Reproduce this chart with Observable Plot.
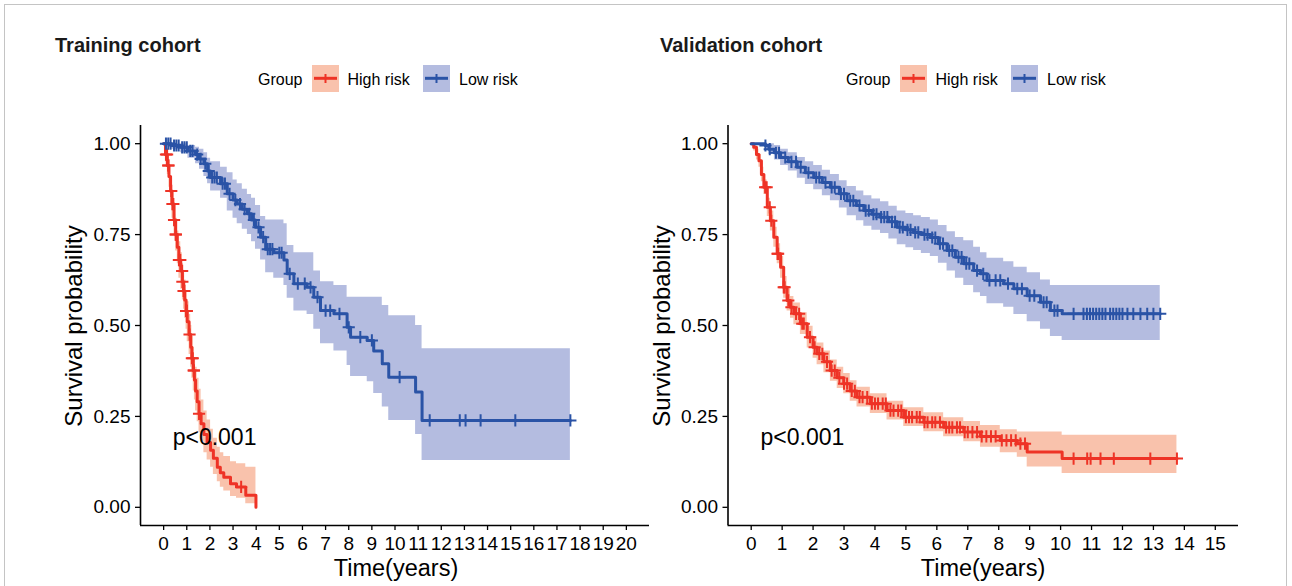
<!DOCTYPE html>
<html>
<head>
<meta charset="utf-8">
<script src="https://cdn.jsdelivr.net/npm/d3@7"></script>
<script src="https://cdn.jsdelivr.net/npm/@observablehq/plot@0.6"></script>
<style>
  html, body { margin: 0; padding: 0; background: #fff; }
  body { width: 1292px; height: 586px; position: relative; overflow: hidden;
         font-family: "Liberation Sans", Arial, Helvetica, sans-serif; color: #000; }
  .frame { position: absolute; left: 4px; top: 4px; width: 1283px; height: 600px; border: 1px solid #c4c4c4; box-sizing: border-box; }
  .title { position: absolute; font-weight: bold; font-size: 20px; line-height: 1; color: #1a1a1a; white-space: nowrap; }
  .legend { position: absolute; font-size: 16px; line-height: 1; white-space: nowrap; }
  .legtxt { position: absolute; top: 0; }
  .sw { position: absolute; top: -7px; }
  .ylab { position: absolute; font-size: 24px; line-height: 1; white-space: nowrap; transform: translate(-50%, -50%) rotate(-90deg); }
  .xlab { position: absolute; font-size: 23.5px; line-height: 1; white-space: nowrap; transform: translate(-50%, -50%); }
</style>
</head>
<body>
<div class="frame"></div>
<script>
// ---------------- DATA ----------------
const groups = ["High risk", "Low risk"];
const lineColors = ["#EE3326", "#2A53A6"];
const bandColors = ["#F9C2AC", "#B4BCE0"];
const panelTitles = ["Training cohort", "Validation cohort"];
const pLabel = "p<0.001";
const xTicksTrain = [0,1,2,3,4,5,6,7,8,9,10,11,12,13,14,15,16,17,18,19,20];
const xTicksValid = [0,1,2,3,4,5,6,7,8,9,10,11,12,13,14,15];
const yTicks = [0, 0.25, 0.5, 0.75, 1];

// Training cohort - High risk
const trHighTime  = [0, 0.08, 0.16, 0.23, 0.30, 0.36, 0.45, 0.52, 0.59, 0.66, 0.74, 0.81, 0.86, 0.91, 0.97, 1.02, 1.10, 1.17, 1.22, 1.28, 1.33, 1.38, 1.45, 1.53, 1.62, 1.74, 1.88, 2.03, 2.15, 2.32, 2.45, 2.60, 2.89, 3.15, 3.55, 3.99];
const trHighSurv  = [1, 0.97, 0.94, 0.91, 0.87, 0.834, 0.79, 0.75, 0.715, 0.68, 0.65, 0.62, 0.595, 0.57, 0.54, 0.51, 0.475, 0.44, 0.41, 0.376, 0.35, 0.32, 0.29, 0.257, 0.23, 0.20, 0.178, 0.157, 0.135, 0.11, 0.095, 0.083, 0.065, 0.056, 0.033, 0];
const trHighLower = [1, 0.95, 0.915, 0.88, 0.835, 0.795, 0.75, 0.705, 0.67, 0.63, 0.60, 0.57, 0.545, 0.52, 0.49, 0.455, 0.42, 0.385, 0.355, 0.32, 0.295, 0.265, 0.235, 0.205, 0.18, 0.15, 0.13, 0.11, 0.09, 0.07, 0.055, 0.045, 0.03, 0.025, 0.01, 0.01];
const trHighUpper = [1, 0.99, 0.965, 0.94, 0.905, 0.87, 0.83, 0.795, 0.76, 0.73, 0.70, 0.67, 0.645, 0.625, 0.595, 0.565, 0.53, 0.50, 0.47, 0.44, 0.41, 0.385, 0.355, 0.325, 0.295, 0.265, 0.24, 0.215, 0.19, 0.165, 0.15, 0.14, 0.125, 0.12, 0.11, 0.11];
const trHighCensor = [0.1, 0.15, 0.2, 0.21, 0.33, 0.38, 0.42, 0.45, 0.52, 0.53, 0.66, 0.7, 0.72, 0.8, 0.81, 0.86, 0.9, 0.97, 0.99, 1.0, 1.12, 1.22, 1.26, 1.3, 1.31, 1.53, 3.35];

// Training cohort - Low risk
const trLowTime  = [0, 0.35, 0.73, 1.05, 1.38, 1.55, 1.74, 1.9, 2.03, 2.46, 2.75, 3.0, 3.18, 3.4, 3.62, 3.8, 3.97, 4.19, 4.41, 4.76, 5.2, 5.34, 5.63, 6.2, 6.49, 6.78, 7.36, 7.93, 8.08, 8.8, 9.08, 9.45, 9.73, 10.89, 11.17, 17.58];
const trLowSurv  = [1, 0.995, 0.99, 0.98, 0.97, 0.958, 0.945, 0.925, 0.907, 0.89, 0.862, 0.845, 0.834, 0.82, 0.807, 0.79, 0.77, 0.743, 0.71, 0.70, 0.68, 0.642, 0.615, 0.605, 0.578, 0.541, 0.532, 0.495, 0.468, 0.459, 0.43, 0.395, 0.358, 0.317, 0.239, 0.239];
const trLowLower = [1, 0.985, 0.975, 0.96, 0.945, 0.93, 0.91, 0.89, 0.87, 0.85, 0.815, 0.795, 0.78, 0.765, 0.75, 0.73, 0.71, 0.68, 0.645, 0.63, 0.61, 0.575, 0.54, 0.53, 0.49, 0.45, 0.43, 0.39, 0.36, 0.345, 0.313, 0.276, 0.239, 0.20, 0.129, 0.129];
const trLowUpper = [1, 1, 1, 0.995, 0.99, 0.985, 0.975, 0.96, 0.95, 0.935, 0.92, 0.90, 0.89, 0.875, 0.86, 0.85, 0.83, 0.80, 0.79, 0.79, 0.78, 0.72, 0.70, 0.70, 0.65, 0.62, 0.61, 0.578, 0.578, 0.578, 0.578, 0.555, 0.527, 0.50, 0.436, 0.436];
const trLowCensor = [0.1, 0.2, 0.3, 0.45, 0.55, 0.65, 0.8, 0.9, 1.0, 1.15, 1.25, 1.45, 1.6, 1.8, 1.95, 2.1, 2.2, 2.3, 2.55, 2.65, 2.85, 3.1, 3.3, 3.5, 3.7, 3.9, 4.1, 4.3, 4.5, 4.6, 4.7, 5.0, 5.1, 5.45, 5.8, 6.1, 6.35, 6.65, 7.0, 7.2, 7.6, 8.0, 8.5, 9.0, 10.2, 11.5, 12.8, 13.05, 13.7, 15.2, 17.58];

// Validation cohort - High risk
const vaHighTime  = [0, 0.08, 0.17, 0.25, 0.33, 0.41, 0.52, 0.62, 0.73, 0.84, 0.95, 1.05, 1.16, 1.27, 1.38, 1.59, 1.81, 2.0, 2.13, 2.35, 2.56, 2.78, 2.99, 3.2, 3.42, 3.85, 4.39, 4.93, 5.58, 6.22, 6.87, 7.41, 8.05, 8.6, 8.92, 10.05, 13.76];
const vaHighSurv  = [1, 0.99, 0.97, 0.953, 0.915, 0.88, 0.825, 0.788, 0.743, 0.697, 0.66, 0.605, 0.569, 0.55, 0.532, 0.505, 0.468, 0.44, 0.422, 0.40, 0.376, 0.356, 0.34, 0.32, 0.303, 0.285, 0.266, 0.248, 0.234, 0.22, 0.207, 0.195, 0.184, 0.175, 0.152, 0.134, 0.134];
const vaHighLower = [1, 0.98, 0.955, 0.935, 0.895, 0.86, 0.80, 0.76, 0.715, 0.67, 0.63, 0.575, 0.54, 0.52, 0.502, 0.475, 0.438, 0.41, 0.392, 0.37, 0.347, 0.327, 0.312, 0.292, 0.276, 0.258, 0.24, 0.222, 0.208, 0.194, 0.18, 0.165, 0.15, 0.138, 0.111, 0.093, 0.093];
const vaHighUpper = [1, 1, 0.985, 0.97, 0.935, 0.90, 0.85, 0.815, 0.77, 0.725, 0.69, 0.635, 0.60, 0.58, 0.562, 0.535, 0.498, 0.47, 0.452, 0.43, 0.405, 0.385, 0.368, 0.348, 0.33, 0.312, 0.292, 0.274, 0.26, 0.246, 0.236, 0.225, 0.213, 0.207, 0.207, 0.198, 0.198];
const vaHighCensor = [0.45, 0.5, 0.6, 0.65, 0.85, 0.87, 1.05, 1.08, 1.2, 1.3, 1.45, 1.55, 1.65, 1.7, 1.9, 2.05, 2.2, 2.3, 2.45, 2.6, 2.7, 2.85, 3.0, 3.1, 3.25, 3.35, 3.5, 3.6, 3.75, 3.9, 4.0, 4.1, 4.25, 4.35, 4.5, 4.6, 4.75, 4.85, 5.0, 5.1, 5.2, 5.35, 5.45, 5.6, 5.7, 5.85, 5.95, 6.1, 6.3, 6.4, 6.5, 6.65, 6.75, 6.9, 7.0, 7.15, 7.3, 7.45, 7.6, 7.75, 7.9, 8.1, 8.25, 8.4, 8.55, 8.7, 8.85, 10.42, 10.86, 10.97, 11.29, 11.72, 12.9, 13.76];

// Validation cohort - Low risk
const vaLowTime  = [0, 0.46, 0.57, 0.75, 0.95, 1.2, 1.49, 1.75, 2.02, 2.3, 2.56, 2.85, 3.1, 3.4, 3.64, 3.9, 4.18, 4.45, 4.72, 5.0, 5.25, 5.5, 5.79, 6.05, 6.33, 6.6, 6.87, 7.19, 7.41, 7.62, 8.16, 8.49, 8.92, 9.35, 9.67, 10.05, 13.22];
const vaLowSurv  = [1, 0.995, 0.985, 0.975, 0.962, 0.95, 0.935, 0.92, 0.907, 0.893, 0.88, 0.862, 0.843, 0.83, 0.816, 0.806, 0.798, 0.785, 0.77, 0.763, 0.756, 0.75, 0.742, 0.725, 0.706, 0.688, 0.67, 0.651, 0.642, 0.624, 0.615, 0.601, 0.582, 0.564, 0.541, 0.532, 0.532];
const vaLowLower = [1, 0.985, 0.97, 0.955, 0.94, 0.925, 0.905, 0.888, 0.873, 0.857, 0.843, 0.823, 0.802, 0.788, 0.773, 0.762, 0.753, 0.738, 0.722, 0.714, 0.706, 0.698, 0.69, 0.671, 0.65, 0.63, 0.61, 0.59, 0.58, 0.56, 0.55, 0.53, 0.51, 0.49, 0.47, 0.459, 0.459];
const vaLowUpper = [1, 1, 1, 0.995, 0.985, 0.975, 0.962, 0.95, 0.94, 0.927, 0.915, 0.898, 0.882, 0.87, 0.857, 0.848, 0.84, 0.828, 0.815, 0.808, 0.802, 0.797, 0.79, 0.775, 0.758, 0.742, 0.733, 0.715, 0.70, 0.685, 0.675, 0.66, 0.645, 0.625, 0.61, 0.61, 0.61];
const vaLowCensor = [0.46, 0.6, 0.8, 0.9, 1.1, 1.3, 1.45, 1.6, 1.85, 2.1, 2.2, 2.4, 2.6, 2.7, 2.9, 3.0, 3.2, 3.3, 3.5, 3.7, 3.8, 3.95, 4.05, 4.2, 4.3, 4.4, 4.55, 4.65, 4.8, 4.9, 5.05, 5.15, 5.3, 5.4, 5.6, 5.7, 5.85, 5.95, 6.1, 6.2, 6.4, 6.5, 6.7, 6.8, 6.95, 7.05, 7.3, 7.5, 7.7, 7.9, 8.05, 8.3, 8.6, 8.75, 9.0, 9.15, 9.45, 9.55, 9.8, 9.9, 10.42, 10.74, 10.85, 10.95, 11.05, 11.15, 11.25, 11.35, 11.45, 11.6, 11.7, 11.8, 11.9, 12.0, 12.16, 12.35, 12.58, 12.8, 13.0, 13.22];

// ---------------- HELPERS ----------------
function curve(time, surv, lower, upper) {
  return time.map((t, i) => ({t, s: surv[i], lo: lower[i], hi: upper[i]}));
}
function censorPts(time, surv, cens) {
  return cens.map(t => {
    const i = Math.max(0, d3.bisectRight(time, t) - 1);
    return {t, s: surv[i]};
  });
}
const FONT = '"Liberation Sans", Arial, Helvetica, sans-serif';

function makePanel(cfg) {
  const high = curve(...cfg.high);
  const low = curve(...cfg.low);
  const highC = censorPts(cfg.high[0], cfg.high[1], cfg.highCensor);
  const lowC = censorPts(cfg.low[0], cfg.low[1], cfg.lowCensor);
  const chart = Plot.plot({
    width: cfg.width, height: 486,
    marginLeft: cfg.ml, marginRight: cfg.mr, marginTop: 25, marginBottom: 61,
    x: {domain: cfg.xDomain},
    y: {domain: [-0.05, 1.05]},
    style: {fontFamily: FONT, fontSize: "19px", color: "#000", background: "transparent", overflow: "visible"},
    marks: [
      Plot.areaY(high, {x: "t", y1: "lo", y2: "hi", curve: "step-after", fill: bandColors[0]}),
      Plot.areaY(low, {x: "t", y1: "lo", y2: "hi", curve: "step-after", fill: bandColors[1]}),
      Plot.line(high, {x: "t", y: "s", curve: "step-after", stroke: lineColors[0], strokeWidth: 3}),
      Plot.line(low, {x: "t", y: "s", curve: "step-after", stroke: lineColors[1], strokeWidth: 3}),
      Plot.dot(highC, {x: "t", y: "s", symbol: "plus", r: 4, stroke: lineColors[0], strokeWidth: 2}),
      Plot.dot(lowC, {x: "t", y: "s", symbol: "plus", r: 4, stroke: lineColors[1], strokeWidth: 2}),
      Plot.text([pLabel], {x: cfg.pX, y: 0.193, text: d => d, textAnchor: "start", fontSize: 23, fill: "#000"}),
      Plot.ruleX([cfg.xDomain[0]], {stroke: "#000", strokeWidth: 1.6}),
      Plot.ruleY([-0.05], {stroke: "#000", strokeWidth: 1.6}),
      Plot.axisX({ticks: cfg.xTicks, tickFormat: d => String(d), tickSize: 5, tickPadding: 6, label: null, strokeWidth: 1.3, fontSize: 19}),
      Plot.axisY({ticks: yTicks, tickFormat: d3.format(".2f"), tickSize: 5, tickPadding: 5, label: null, strokeWidth: 1.3, fontSize: 19})
    ]
  });
  chart.style.position = "absolute";
  chart.style.left = cfg.left + "px";
  chart.style.top = "100px";
  document.body.appendChild(chart);

  // title
  const t = document.createElement("div");
  t.className = "title"; t.textContent = cfg.title;
  t.style.left = cfg.titleX + "px"; t.style.top = "35px";
  document.body.appendChild(t);

  // legend
  const lg = document.createElement("div");
  lg.className = "legend";
  lg.style.left = cfg.legX + "px"; lg.style.top = "72px";
  const items = [
    {type: "text", x: 0, txt: "Group"},
    {type: "sw", x: 53.5, i: 0},
    {type: "text", x: 89.5, txt: groups[0]},
    {type: "sw", x: 164.5, i: 1},
    {type: "text", x: 201, txt: groups[1]}
  ];
  for (const it of items) {
    if (it.type === "text") {
      const s = document.createElement("span");
      s.className = "legtxt"; s.style.left = it.x + "px"; s.textContent = it.txt;
      lg.appendChild(s);
    } else {
      const ns = "http://www.w3.org/2000/svg";
      const svg = document.createElementNS(ns, "svg");
      svg.setAttribute("width", 27); svg.setAttribute("height", 27);
      svg.setAttribute("class", "sw");
      svg.style.left = it.x + "px";
      svg.innerHTML = `<rect x="0" y="0" width="27" height="27" fill="${bandColors[it.i]}"/>
        <line x1="2" x2="25" y1="13.3" y2="13.3" stroke="${lineColors[it.i]}" stroke-width="3"/>
        <line x1="13.5" x2="13.5" y1="9" y2="18" stroke="${lineColors[it.i]}" stroke-width="2"/>`;
      lg.appendChild(svg);
    }
  }
  document.body.appendChild(lg);

  // axis titles
  const yl = document.createElement("div");
  yl.className = "ylab"; yl.textContent = "Survival probability";
  yl.style.left = cfg.yLabX + "px"; yl.style.top = "326px";
  document.body.appendChild(yl);
  const xl = document.createElement("div");
  xl.className = "xlab"; xl.textContent = "Time(years)";
  xl.style.left = cfg.xLabX + "px"; xl.style.top = "569px";
  document.body.appendChild(xl);
}

makePanel({
  title: panelTitles[0], titleX: 55, legX: 258, left: 0, width: 660, ml: 140, mr: 11,
  xDomain: [-1, 21], xTicks: xTicksTrain, pX: 0.39, yLabX: 73.5, xLabX: 396,
  high: [trHighTime, trHighSurv, trHighLower, trHighUpper], highCensor: trHighCensor,
  low: [trLowTime, trLowSurv, trLowLower, trLowUpper], lowCensor: trLowCensor
});
makePanel({
  title: panelTitles[1], titleX: 660, legX: 846, left: 646, width: 646, ml: 81.5, mr: 54,
  xDomain: [-0.75, 15.75], xTicks: xTicksValid, pX: 0.30, yLabX: 662, xLabX: 983,
  high: [vaHighTime, vaHighSurv, vaHighLower, vaHighUpper], highCensor: vaHighCensor,
  low: [vaLowTime, vaLowSurv, vaLowLower, vaLowUpper], lowCensor: vaLowCensor
});
</script>
</body>
</html>
